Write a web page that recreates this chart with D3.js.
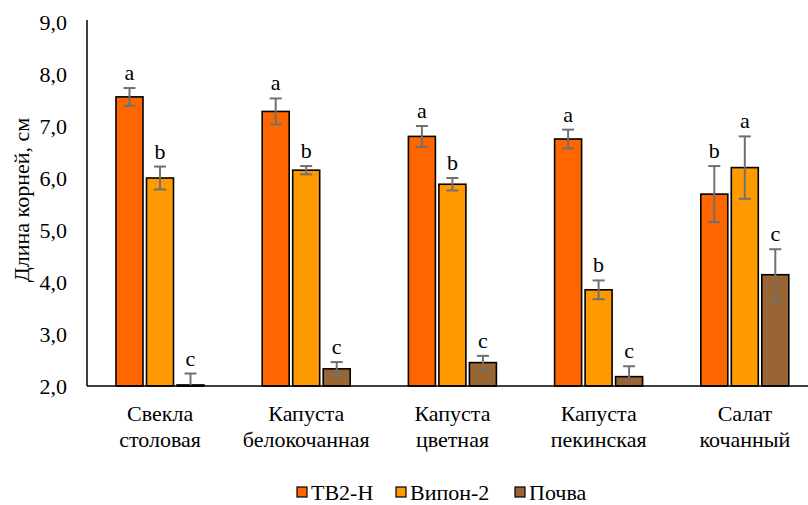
<!DOCTYPE html>
<html>
<head>
<meta charset="utf-8">
<script src="https://cdn.jsdelivr.net/npm/d3@7"></script>
<style>
  body { margin: 0; background: #fff; }
</style>
</head>
<body>
<svg id="chart" width="808" height="505"></svg>
<script>
// categories (two-line labels)
const categories = [
  ["Свекла", "столовая"],
  ["Капуста", "белокочанная"],
  ["Капуста", "цветная"],
  ["Капуста", "пекинская"],
  ["Салат", "кочанный"]
]
const seriesNames = ["ТВ2-Н", "Випон-2", "Почва"]
const seriesColors = ["#ff6600", "#ff9900", "#996633"]

// means, errors and letters for every series
const tv2Values = [7.56, 7.28, 6.80, 6.75, 5.69]
const tv2Errors = [0.17, 0.25, 0.20, 0.18, 0.54]
const tv2Letters = ["a", "a", "a", "a", "b"]

const viponValues = [6.00, 6.15, 5.88, 3.85, 6.20]
const viponErrors = [0.22, 0.08, 0.12, 0.18, 0.60]
const viponLetters = ["b", "b", "b", "b", "a"]

const soilValues = [2.02, 2.33, 2.45, 2.18, 4.14]
const soilErrors = [0.22, 0.13, 0.13, 0.20, 0.49]
const soilLetters = ["c", "c", "c", "c", "c"]

const yTicks = [2, 3, 4, 5, 6, 7, 8, 9]

const FONT = "Liberation Serif"
const FS = 22
const svg = d3.select("#chart")
const mLeft = 87, mRight = 818, mTop = 22, mBottom = 386

const y = d3.scaleLinear().domain([2, 9]).range([mBottom, mTop])
const x0 = d3.scaleBand().domain(d3.range(categories.length)).range([mLeft, mRight])
const x1 = d3.scaleBand().domain(d3.range(3)).range([29, 117]).paddingInner(0.115)

const series = [
  {vals: tv2Values, errs: tv2Errors, letters: tv2Letters},
  {vals: viponValues, errs: viponErrors, letters: viponLetters},
  {vals: soilValues, errs: soilErrors, letters: soilLetters}
]

// y ticks
svg.append("g").selectAll("text")
  .data(yTicks).join("text")
  .attr("x", 67)
  .attr("y", d => y(d))
  .attr("dy", "0.35em")
  .attr("text-anchor", "end")
  .attr("font-family", FONT)
  .attr("font-size", FS)
  .text(d => d3.format(".1f")(d).replace(".", ","))

// y title
svg.append("text")
  .attr("transform", "translate(29,200) rotate(-90)")
  .attr("text-anchor", "middle")
  .attr("font-family", FONT)
  .attr("font-size", FS)
  .text("Длина корней, см")

const bars = []
series.forEach((s, si) => {
  s.vals.forEach((v, ci) => {
    bars.push({si, ci, v, e: s.errs[ci], letter: s.letters[ci]})
  })
})

const bx = d => x0(d.ci) + x1(d.si)
const bw = x1.bandwidth()

svg.append("g").selectAll("rect")
  .data(bars).join("rect")
  .attr("x", bx)
  .attr("y", d => y(d.v))
  .attr("width", bw)
  .attr("height", d => y(2) - y(d.v))
  .attr("fill", d => seriesColors[d.si])
  .attr("stroke", "#000")
  .attr("stroke-width", 1.6)

// error bars
const eg = svg.append("g").attr("stroke", "#707070").attr("stroke-width", 2)
eg.selectAll("line.v").data(bars).join("line")
  .attr("class", "v")
  .attr("x1", d => bx(d) + bw / 2).attr("x2", d => bx(d) + bw / 2)
  .attr("y1", d => y(d.v + d.e)).attr("y2", d => y(Math.max(2, d.v - d.e)))
eg.selectAll("line.t").data(bars).join("line")
  .attr("class", "t")
  .attr("x1", d => bx(d) + bw / 2 - 6).attr("x2", d => bx(d) + bw / 2 + 6)
  .attr("y1", d => y(d.v + d.e)).attr("y2", d => y(d.v + d.e))
eg.selectAll("line.b").data(bars.filter(d => d.v - d.e > 2)).join("line")
  .attr("class", "b")
  .attr("x1", d => bx(d) + bw / 2 - 6).attr("x2", d => bx(d) + bw / 2 + 6)
  .attr("y1", d => y(d.v - d.e)).attr("y2", d => y(d.v - d.e))

// letters
svg.append("g").selectAll("text")
  .data(bars).join("text")
  .attr("x", d => bx(d) + bw / 2)
  .attr("y", d => y(d.v + d.e) - 8)
  .attr("text-anchor", "middle")
  .attr("font-family", FONT)
  .attr("font-size", FS)
  .text(d => d.letter)

// axes lines
svg.append("line").attr("x1", mLeft).attr("x2", mLeft).attr("y1", mTop - 2).attr("y2", mBottom)
  .attr("stroke", "#000").attr("stroke-width", 1.5)
svg.append("line").attr("x1", mLeft).attr("x2", 808).attr("y1", mBottom).attr("y2", mBottom)
  .attr("stroke", "#000").attr("stroke-width", 1.5)

// category labels
const cg = svg.append("g").selectAll("text")
  .data(categories).join("text")
  .attr("text-anchor", "middle")
  .attr("font-family", FONT)
  .attr("font-size", FS)
cg.selectAll("tspan")
  .data((d, i) => d.map(t => ({t, i})))
  .join("tspan")
  .attr("x", d => x0(d.i) + x0.bandwidth() / 2)
  .attr("y", (d, j) => 421 + j * 26)
  .text(d => d.t)

// legend
const legendX = [297, 396, 515]
const lg = svg.append("g").selectAll("g")
  .data(seriesNames).join("g")
  .attr("transform", (d, i) => `translate(${legendX[i]},487)`)
lg.append("rect")
  .attr("width", 10).attr("height", 10)
  .attr("fill", (d, i) => seriesColors[i])
  .attr("stroke", "#000").attr("stroke-width", 1.2)
lg.append("text")
  .attr("x", 14).attr("y", 5).attr("dy", "0.35em")
  .attr("font-family", FONT)
  .attr("font-size", FS)
  .text(d => d)
</script>
</body>
</html>
